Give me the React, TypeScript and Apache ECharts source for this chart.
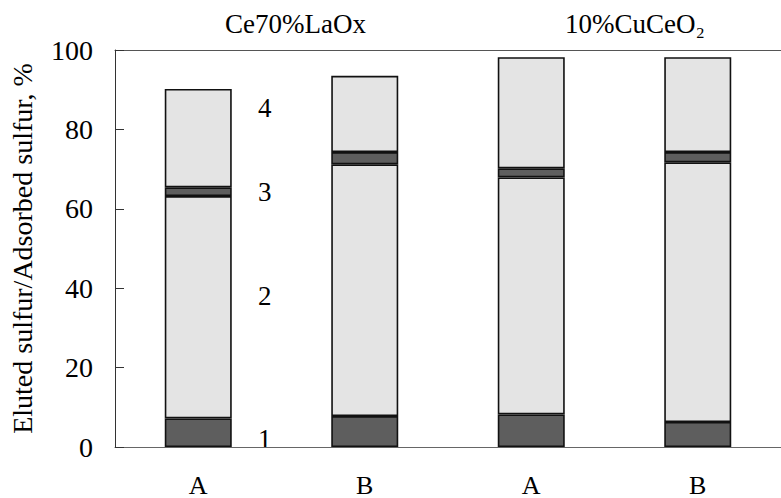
import React, { useEffect, useRef } from "react";
import * as echarts from "echarts";

const categories = ["A", "B", "A", "B"];
const seg1 = [7.2, 7.8, 8.2, 6.3];
const seg2 = [56.0, 63.4, 59.7, 65.4];
const seg3 = [2.2, 3.1, 2.3, 2.6];
const seg4 = [24.8, 19.2, 28.0, 23.9];
const segmentNames = ["1", "2", "3", "4"];
const groupNames = ["Ce70%LaOx", "10%CuCeO\u2082"];
const yTicks = [0, 20, 40, 60, 80, 100];

const FONT = "Liberation Serif, Times New Roman, serif";
const DARK = "#5e5e5e";
const LIGHT = "#e4e4e4";

export default function App() {
  const ref = useRef<HTMLDivElement>(null);
  useEffect(() => {
    if (!ref.current) return;
    const chart = echarts.init(ref.current, null, { renderer: "svg" });
    const fills = [DARK, LIGHT, DARK, LIGHT];
    const data = [seg1, seg2, seg3, seg4];
    const series = data.map((d, i) => ({
      type: "bar" as const,
      name: segmentNames[i],
      stack: "total",
      data: d,
      barWidth: 67,
      itemStyle: {
        color: fills[i],
        borderColor: "#111",
        borderWidth: 1.6,
      },
    }));
    chart.setOption({
      animation: false,
      grid: { left: 114, right: 0, top: 50, bottom: 48 },
      xAxis: [
        {
          type: "category",
          data: categories,
          axisLine: { show: true, lineStyle: { color: "#666", width: 1 } },
          axisTick: { show: false },
          axisLabel: {
            color: "#000",
            fontFamily: FONT,
            fontSize: 26,
            margin: 25,
          },
        },
        {
          type: "category",
          data: categories,
          position: "top",
          axisLine: { show: true, lineStyle: { color: "#555", width: 1 } },
          axisTick: { show: false },
          axisLabel: { show: false },
        },
      ],
      yAxis: {
        type: "value",
        min: yTicks[0],
        max: yTicks[yTicks.length - 1],
        interval: 20,
        name: "Eluted sulfur/Adsorbed sulfur, %",
        nameLocation: "middle",
        nameGap: 79,
        nameTextStyle: { color: "#000", fontFamily: FONT, fontSize: 28 },
        axisLine: { show: true, lineStyle: { color: "#333", width: 1 } },
        axisTick: { show: true, inside: true, length: 9, lineStyle: { color: "#333" } },
        splitLine: { show: false },
        axisLabel: {
          color: "#000",
          fontFamily: FONT,
          fontSize: 28,
          margin: 22,
        },
      },
      series,
      graphic: [
        { type: "text", left: 258, top: 94, style: { text: segmentNames[3], font: `27px ${FONT}`, fill: "#000" } },
        { type: "text", left: 258, top: 178, style: { text: segmentNames[2], font: `27px ${FONT}`, fill: "#000" } },
        { type: "text", left: 258, top: 282, style: { text: segmentNames[1], font: `27px ${FONT}`, fill: "#000" } },
        { type: "text", left: 258, top: 425, style: { text: segmentNames[0], font: `27px ${FONT}`, fill: "#000" } },
        { type: "text", left: 225, top: 10, style: { text: groupNames[0], font: `27px ${FONT}`, fill: "#000" } },
        { type: "text", left: 565, top: 10, style: { text: groupNames[1], font: `27px ${FONT}`, fill: "#000" } },
      ],
    });
    return () => chart.dispose();
  }, []);
  return (
    <div
      ref={ref}
      style={{ position: "fixed", left: 0, top: 0, width: 781, height: 498, background: "#fff" }}
    />
  );
}
